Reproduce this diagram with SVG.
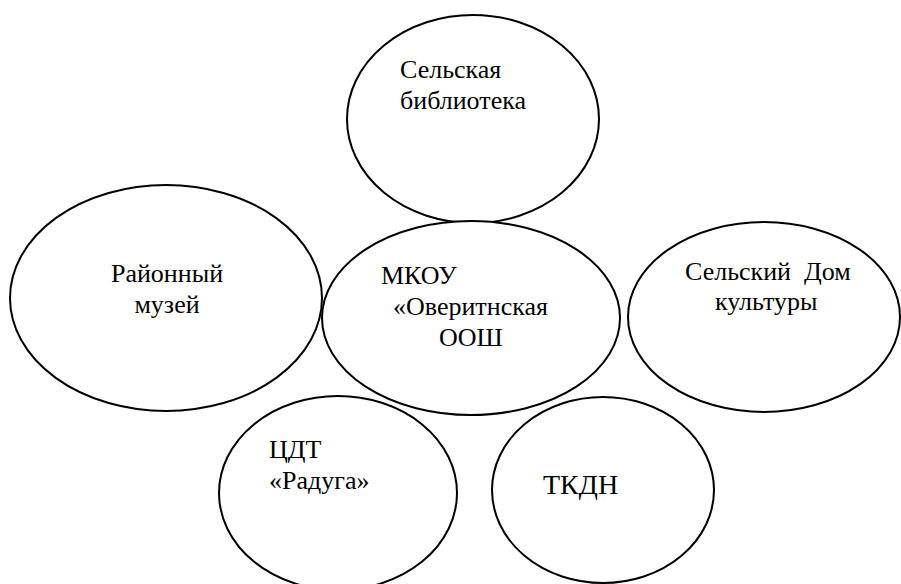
<svg xmlns="http://www.w3.org/2000/svg" width="901" height="584" viewBox="0 0 901 584">
<style>
.n{fill:#fff;stroke:#000;stroke-width:2}
.t{font-family:'Liberation Serif','Times New Roman',serif;font-size:26px;fill:#000}
</style>
<rect width="901" height="584" fill="#fff"/>
<g id="connectors"/>
<g id="library">
<ellipse class="n" cx="473" cy="119" rx="126" ry="104"/>
<text class="t" x="400" y="78">Сельская</text>
<text class="t" x="400" y="109">библиотека</text>
</g>
<g id="museum">
<ellipse class="n" cx="166" cy="298" rx="156" ry="113"/>
<text class="t" x="167" y="282" text-anchor="middle">Районный</text>
<text class="t" x="167" y="313" text-anchor="middle">музей</text>
</g>
<g id="school">
<ellipse class="n" cx="471" cy="318" rx="149" ry="97"/>
<text class="t" x="381" y="284">МКОУ</text>
<text class="t" x="393" y="315">«Оверитнская</text>
<text class="t" x="439" y="346">ООШ</text>
</g>
<g id="culture">
<ellipse class="n" cx="764" cy="317" rx="136" ry="95"/>
<text class="t" x="685" y="280" xml:space="preserve">Сельский  Дом</text>
<text class="t" x="715" y="310">культуры</text>
</g>
<g id="raduga">
<ellipse class="n" cx="338" cy="493" rx="119" ry="97"/>
<text class="t" x="269" y="458">ЦДТ</text>
<text class="t" x="269" y="489">«Радуга»</text>
</g>
<g id="tkdn">
<ellipse class="n" cx="603" cy="490" rx="111" ry="93"/>
<text class="t" x="543" y="494" style="font-size:28px">ТКДН</text>
</g>
</svg>
